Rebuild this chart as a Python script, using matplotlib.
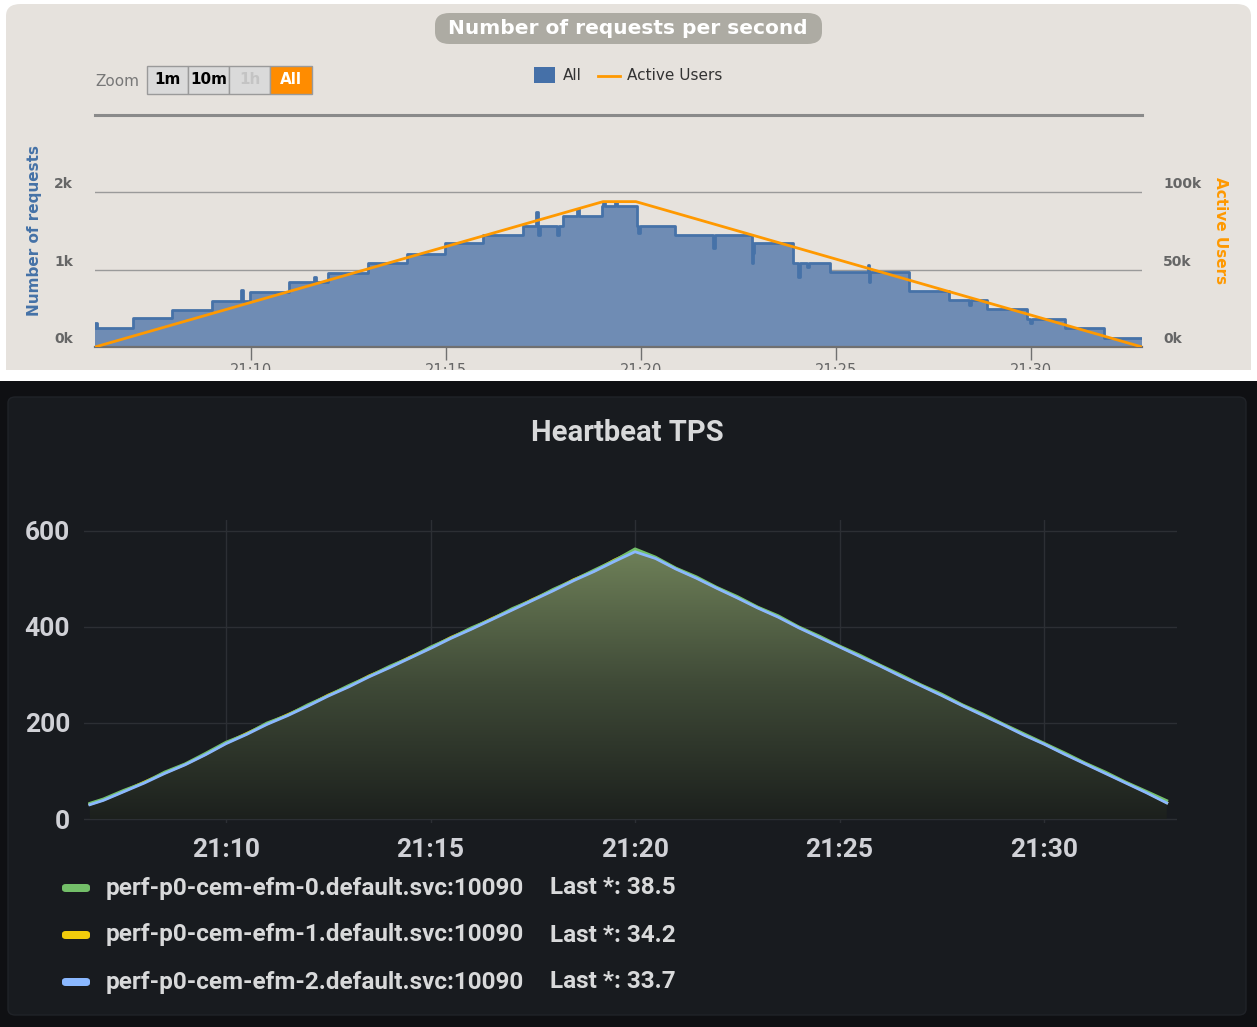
import numpy as np
import matplotlib
matplotlib.use("Agg")
import matplotlib.pyplot as plt
from matplotlib.patches import FancyBboxPatch, Rectangle
from matplotlib.colors import LinearSegmentedColormap
from matplotlib.lines import Line2D

# ---- top chart data (minutes after 21:00) ----
req_step_min = [6.0, 6.97, 7.97, 9.0, 9.97, 10.97, 11.97, 13.0, 14.0, 14.97, 15.95, 16.97,
                18.0, 19.0, 19.9, 20.87, 21.9, 22.87, 23.9, 24.85, 25.85, 26.87, 27.9, 28.87,
                29.9, 30.87, 31.87, 32.85]
req_levels = [250, 375, 480, 600, 710, 840, 960, 1080, 1200, 1340, 1450, 1570,
              1690, 1820, 1570, 1450, 1340, 1210, 1090, 970, 840, 730, 610, 490,
              360, 250, 120, 120]
spike_min = [6.0, 9.74, 11.62, 17.3, 17.36, 17.85, 18.36, 19.03, 19.33, 19.92, 21.85, 22.85,
             24.03, 24.26, 25.82, 28.41, 29.97]
spike_val = [310, 740, 900, 1740, 1450, 1450, 1780, 1870, 1870, 1480, 1280, 1090,
             910, 1040, 1060, 545, 310]
users_min = [6.0, 19.03, 19.87, 32.85]
users_val = [0, 94000, 94000, 0]

req_ticks = [0, 1000, 2000]
req_tick_labels = ["0k", "1k", "2k"]
users_tick_labels = ["0k", "50k", "100k"]
time_ticks = [10, 15, 20, 25, 30]
time_labels = ["21:10", "21:15", "21:20", "21:25", "21:30"]

# ---- bottom chart data ----
tps_min = [6.67] + list(np.arange(7.0, 33.01, 0.5))
tps_efm0 = [33, 42, 60, 76, 98, 115, 137, 160, 177, 200, 216, 238, 257, 278, 297, 318, 336, 358,
            377, 398, 416, 438, 456, 478, 497, 518, 538, 562, 545, 522, 504, 482, 463, 441, 423,
            400, 381, 360, 341, 320, 300, 279, 260, 238, 219, 198, 178, 158, 138, 117, 98, 77, 58, 38.5]
tps_efm1 = [31, 40, 58, 77, 96, 114, 135, 158, 178, 198, 217, 236, 258, 276, 298, 316, 337, 356,
            378, 396, 417, 436, 457, 476, 498, 516, 539, 558, 543, 521, 502, 481, 461, 440, 421,
            399, 379, 359, 339, 319, 298, 278, 258, 237, 217, 197, 176, 157, 136, 116, 96, 76, 56, 34.2]
tps_efm2 = [30, 39, 57, 75, 95, 113, 134, 157, 176, 197, 215, 235, 256, 275, 296, 315, 335, 355,
            376, 395, 415, 435, 455, 475, 496, 515, 536, 556, 542, 520, 501, 480, 460, 439, 420,
            398, 378, 358, 338, 318, 297, 277, 257, 236, 216, 196, 175, 156, 135, 115, 95, 75, 55, 33.7]
series_names = ["perf-p0-cem-efm-0.default.svc:10090",
                "perf-p0-cem-efm-1.default.svc:10090",
                "perf-p0-cem-efm-2.default.svc:10090"]
series_last = ["Last *: 38.5", "Last *: 34.2", "Last *: 33.7"]
series_colors = ["#73bf69", "#f2cc0c", "#8ab8ff"]

W, H = 1257, 1027
fig = plt.figure(figsize=(W / 100, H / 100), dpi=100)
fig.patch.set_facecolor("white")


def box(x0, y0, x1, y1):
    # pixel box (top-left origin) -> figure fraction
    return x0 / W, 1 - y1 / H, (x1 - x0) / W, (y1 - y0) / H


def add_rect(x0, y0, x1, y1, rounded=0, **kw):
    l, b, w, h = box(x0, y0, x1, y1)
    if rounded:
        p = FancyBboxPatch((l, b), w, h, boxstyle=f"round,pad=0,rounding_size={rounded / H}",
                           transform=fig.transFigure, **kw)
    else:
        p = Rectangle((l, b), w, h, transform=fig.transFigure, **kw)
    fig.patches.append(p)
    return p


# ================= top panel =================
add_rect(6, 4, 1251, 400, rounded=12, facecolor="#e6e2dd", edgecolor="none", zorder=-10)
add_rect(0, 370, W, 381, facecolor="white", edgecolor="none", zorder=5)
add_rect(0, 381, W, H, facecolor="#0f1013", edgecolor="none", zorder=5)

# title pill
add_rect(435, 13, 822, 44, rounded=12, facecolor="#adaba3", edgecolor="none", zorder=3)
fig.text(628 / W, 1 - 29 / H, "Number of requests per second", ha="center", va="center",
         color="white", fontsize=14.5, fontweight="bold", zorder=4)

# zoom buttons
fig.text(95 / W, 1 - 81 / H, "Zoom", ha="left", va="center", color="#777777", fontsize=11)
btns = [("1m", 147, 188, "#dadada", "black"), ("10m", 188, 229, "#dadada", "black"),
        ("1h", 229, 270, "#dadada", "#c4c4c4"), ("All", 270, 312, "#ff8c00", "white")]
for lab, x0, x1, fc, tc in btns:
    add_rect(x0, 66, x1, 94, facecolor=fc, edgecolor="#9a9a9a", linewidth=1, zorder=3)
    fig.text((x0 + x1) / 2 / W, 1 - 79 / H, lab, ha="center", va="center", color=tc,
             fontsize=11, fontweight="bold", zorder=4)

# legend
add_rect(534, 67, 555, 83, facecolor="#4570a8", edgecolor="none", zorder=3)
fig.text(563 / W, 1 - 76 / H, "All", ha="left", va="center", color="#333333", fontsize=11)
fig.lines.append(Line2D([598 / W, 620 / W], [1 - 76 / H, 1 - 76 / H], color="#ff9900",
                        linewidth=2, transform=fig.transFigure))
fig.text(627 / W, 1 - 76 / H, "Active Users", ha="left", va="center", color="#333333", fontsize=11)

# build requests step series with glitches
t_req, v_req = list(req_step_min), list(req_levels)
for t, v in zip(spike_min, spike_val):
    i = np.searchsorted(req_step_min, t, side="right") - 1
    t_req += [t, t + 0.06]
    v_req += [v, req_levels[i]]
order = np.argsort(t_req, kind="stable")
t_req = np.array(t_req)[order]
v_req = np.array(v_req)[order]

ax = fig.add_axes(box(95, 115, 1142, 347))
ax.set_facecolor("none")
ax.fill_between(t_req, v_req, step="post", color="#6f8cb4", linewidth=0, zorder=2)
ax.plot(t_req, v_req, drawstyle="steps-post", color="#4672a8", linewidth=2, zorder=3)
ax.set_xlim(6.0, 32.85)
ax.set_ylim(0, 3000)
for v in req_ticks[1:]:
    ax.axhline(v, color="#9a9a9a", linewidth=1, zorder=1)
ax.axhline(3000, color="#8a8a8a", linewidth=2.2, zorder=1, clip_on=False)
ax.axhline(0, color="#707070", linewidth=1.6, zorder=4, clip_on=False)
for s in ax.spines.values():
    s.set_visible(False)
ax.set_yticks([])
ax.set_xticks(time_ticks)
ax.set_xticklabels(time_labels)
ax.tick_params(axis="x", length=9, width=1, color="#707070", pad=2.5,
               labelsize=10.5, labelcolor="#666666")
for v, lab in zip(req_ticks, req_tick_labels):
    ax.annotate(lab, (0, v), xycoords=("axes fraction", "data"), xytext=(-22, 8),
                textcoords="offset pixels", ha="right", va="center", color="#666666",
                fontsize=10, fontweight="bold")
for v, lab in zip(req_ticks, users_tick_labels):
    ax.annotate(lab, (1, v), xycoords=("axes fraction", "data"), xytext=(21, 8),
                textcoords="offset pixels", ha="left", va="center", color="#666666",
                fontsize=10, fontweight="bold")

ax2 = ax.twinx()
ax2.set_ylim(0, 150000)
ax2.plot(users_min, users_val, color="#ff9900", linewidth=2, zorder=5)
ax2.set_yticks([])
for s in ax2.spines.values():
    s.set_visible(False)

fig.text(35 / W, 1 - 231 / H, "Number of requests", rotation=90, ha="center", va="center",
         color="#4572a7", fontsize=11, fontweight="bold")
fig.text(1221 / W, 1 - 231 / H, "Active Users", rotation=270, ha="center", va="center",
         color="#ff9900", fontsize=11, fontweight="bold")

# ================= bottom panel =================
add_rect(8, 397, 1246, 1015, rounded=6, facecolor="#181b1f", edgecolor="#202328",
         linewidth=1, zorder=6)

fig.text(627 / W, 1 - 433 / H, "Heartbeat TPS", ha="center", va="center", color="#d8d9da",
         fontsize=21, fontweight="bold", family="Roboto", zorder=7)

bx = fig.add_axes(box(84, 520, 1177, 823))
bx.set_zorder(10)
bx.set_facecolor("none")
xmin, xmax = 6.528, 33.25
for v in [0, 200, 400, 600]:
    bx.axhline(v, color="#2c2f34", linewidth=1, zorder=0)
for t in time_ticks:
    bx.axvline(t, color="#2c2f34", linewidth=1, zorder=0)

# gradient fill under the curve
poly = bx.fill_between(tps_min, tps_efm0, 0, color="none")
cmap = LinearSegmentedColormap.from_list("tps", ["#1c201d", "#3f4a37", "#6f8159"])
grad = np.linspace(0, 1, 256).reshape(-1, 1)
im = bx.imshow(grad, extent=[xmin, xmax, 0, max(tps_efm0)], origin="lower", cmap=cmap,
               aspect="auto", zorder=1)
im.set_clip_path(poly.get_paths()[0], transform=bx.transData)

for ys, c, z in zip([tps_efm0, tps_efm1, tps_efm2], series_colors, [3, 2, 4]):
    bx.plot(tps_min, ys, color=c, linewidth=2, zorder=z)

bx.set_xlim(xmin, xmax)
bx.set_ylim(-8, 622)
for s in bx.spines.values():
    s.set_visible(False)
bx.set_yticks([0, 200, 400, 600])
bx.set_xticks(time_ticks)
bx.set_xticklabels(time_labels)
bx.tick_params(length=0, labelsize=19, labelcolor="#d0d1d6")
bx.tick_params(axis="y", pad=10)
bx.tick_params(axis="x", pad=11)
for lab in bx.get_xticklabels() + bx.get_yticklabels():
    lab.set_family("Roboto")
    lab.set_fontweight("bold")

# legend
for i, (name, last, c) in enumerate(zip(series_names, series_last, series_colors)):
    yc = 888 + i * 47
    add_rect(62, yc - 4, 90, yc + 4, rounded=3, facecolor=c, edgecolor="none", zorder=7)
    fig.text(106 / W, 1 - yc / H, name, ha="left", va="center", color="#d8d9da",
             fontsize=17.5, family="Roboto", fontweight="bold", zorder=7)
    fig.text(550 / W, 1 - yc / H, last, ha="left", va="center", color="#d8d9da",
             fontsize=17.5, family="Roboto", fontweight="bold", zorder=7)

fig.savefig("out.png", dpi=100, facecolor=fig.get_facecolor())
